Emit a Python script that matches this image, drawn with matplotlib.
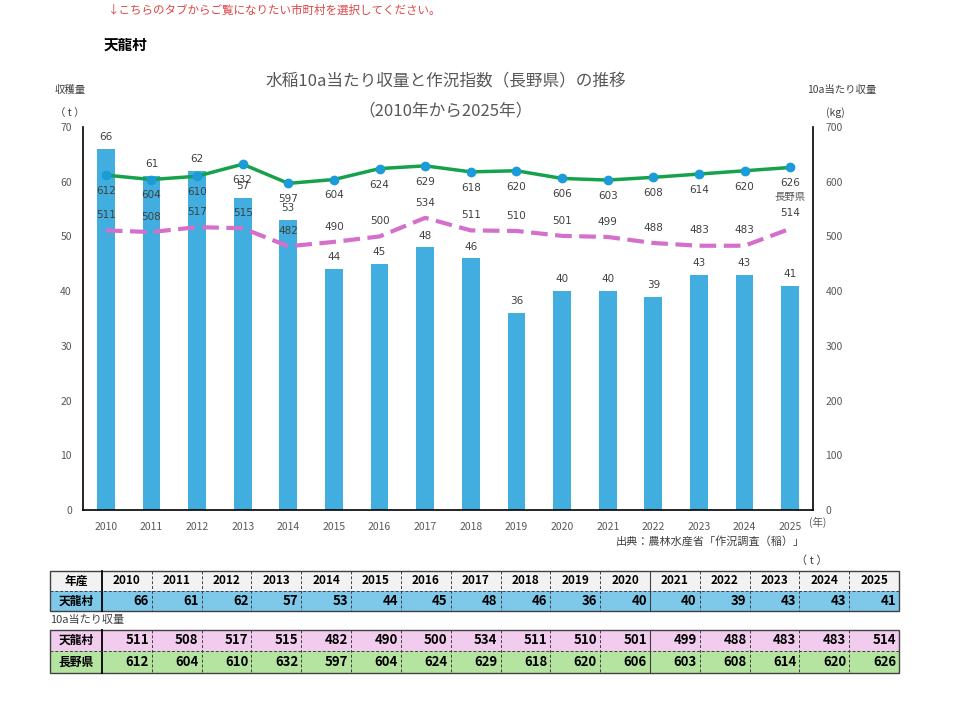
"""
Tenryu village rice harvest chart with summary table
"""

import matplotlib.pyplot as plt
import numpy as np

plt.rcParams["font.family"] = ["Noto Sans CJK JP", "DejaVu Sans"]

# Data
years = [2010, 2011, 2012, 2013, 2014, 2015, 2016, 2017,
         2018, 2019, 2020, 2021, 2022, 2023, 2024, 2025]
harvest_t = [66, 61, 62, 57, 53, 44, 45, 48, 46, 36, 40, 40, 39, 43, 43, 41]
yield_tenryu = [511, 508, 517, 515, 482, 490, 500, 534,
                511, 510, 501, 499, 488, 483, 483, 514]
yield_nagano = [612, 604, 610, 632, 597, 604, 624, 629,
                618, 620, 606, 603, 608, 614, 620, 626]

W, H = 960, 701
BAR_C = "#41AEDF"
GREEN = "#15A24A"
MARK = "#1B9BD7"
PINK = "#D46FCB"
GRAY = "#595959"
LBL = "#404040"


def fx(px):
    return px / W


def fy(py):
    return 1 - py / H


fig = plt.figure(figsize=(W / 100, H / 100), dpi=100)

# page-level axes in pixel coords (texts + table)
pax = fig.add_axes([0, 0, 1, 1])
pax.set_xlim(0, W)
pax.set_ylim(H, 0)
pax.axis("off")

# Chart
ax = fig.add_axes([fx(83), fy(510), (813 - 83) / W, (510 - 127) / H])
x = np.arange(len(years))
ax.bar(x, harvest_t, width=0.39, color=BAR_C, zorder=2)
ax.set_xlim(-0.5, len(years) - 0.5)
ax.set_ylim(0, 70)
ax.set_yticks(range(0, 71, 10))
ax.set_xticks(x)
ax.set_xticklabels([str(y) for y in years])
ax.tick_params(length=0, labelsize=7.5, labelcolor=GRAY)
ax.tick_params(axis="x", pad=9)
ax.tick_params(axis="y", pad=8)
ax.spines["top"].set_visible(False)
ax.spines["right"].set_visible(False)
for s in ("left", "bottom"):
    ax.spines[s].set_color("black")
    ax.spines[s].set_linewidth(1.2)

for xi, v in zip(x, harvest_t):
    ax.annotate(str(v), (xi, v), xytext=(0, 8.5), textcoords="offset points",
                ha="center", va="center", fontsize=7.5, color=LBL,
                family="DejaVu Sans")

ax2 = ax.twinx()
ax2.set_ylim(0, 700)
ax2.set_yticks(range(0, 701, 100))
ax2.tick_params(length=0, labelsize=7.5, labelcolor=GRAY, pad=9)
ax2.spines["top"].set_visible(False)
ax2.spines["left"].set_visible(False)
ax2.spines["bottom"].set_visible(False)
ax2.spines["right"].set_color("black")
ax2.spines["right"].set_linewidth(1.2)

ax2.plot(x, yield_tenryu, color=PINK, linewidth=3, dashes=(4, 1.8), zorder=3)
ax2.plot(x, yield_nagano, color=GREEN, linewidth=2.5, marker="o",
         markersize=6, markerfacecolor=MARK, markeredgecolor=MARK, zorder=4)

for xi, v in zip(x, yield_nagano):
    ax2.annotate(str(v), (xi, v), xytext=(0, -11.5), textcoords="offset points",
                 ha="center", va="center", fontsize=7.5, color=LBL,
                 family="DejaVu Sans")
for xi, v in zip(x, yield_tenryu):
    ax2.annotate(str(v), (xi, v), xytext=(0, 11), textcoords="offset points",
                 ha="center", va="center", fontsize=7.5, color=LBL,
                 family="DejaVu Sans")
ax2.annotate("長野県", (x[-1], yield_nagano[-1]), xytext=(0, -21.5),
             textcoords="offset points", ha="center", va="center",
             fontsize=7.5, color=GRAY)

# Page texts
pax.text(108, 10, "↓こちらのタブからご覧になりたい市町村を選択してください。",
         fontsize=8.3, color="#E04545", va="center", ha="left")
pax.text(104, 45, "天龍村", fontsize=10.5, fontweight="bold", va="center")
pax.text(446, 82, "水稲10a当たり収量と作況指数（長野県）の推移",
         fontsize=12, color=GRAY, ha="center", va="center")
pax.text(446, 111, "（2010年から2025年）", fontsize=12, color=GRAY,
         ha="center", va="center")
pax.text(70, 90, "収穫量", fontsize=7.5, color="#404040", ha="center", va="center")
pax.text(70, 113, "（ t ）", fontsize=7.5, color="#404040", ha="center", va="center")
pax.text(842, 90, "10a当たり収量", fontsize=7.5, color="#404040",
         ha="center", va="center")
pax.text(835, 113, "(kg)", fontsize=7.5, color="#404040", ha="center", va="center")
pax.text(818, 522, "(年)", fontsize=7.5, color=GRAY, ha="center", va="center")
pax.text(805, 541, "出典：農林水産省「作況調査（稲）」", fontsize=8,
         color="#404040", ha="right", va="center")
pax.text(812, 561, "（ t ）", fontsize=8, color="#404040", ha="center", va="center")

# Table
t_left, t_right, c0 = 50, 899, 102
cw = (t_right - c0) / len(years)
col_x = [c0 + i * cw for i in range(len(years) + 1)]


def draw_row(y0, y1, bg, label, values, header=False):
    pax.add_patch(plt.Rectangle((t_left, y0), t_right - t_left, y1 - y0,
                                facecolor=bg, edgecolor="none", zorder=1))
    ym = (y0 + y1) / 2
    pax.text((t_left + c0) / 2, ym, label, ha="center", va="center",
             fontsize=8.5, fontweight="bold", zorder=3)
    for i, v in enumerate(values):
        if header:
            pax.text((col_x[i] + col_x[i + 1]) / 2, ym, str(v), ha="center",
                     va="center", fontsize=8.5, fontweight="bold", zorder=3)
        else:
            pax.text(col_x[i + 1] - 3, ym, str(v), ha="right", va="center",
                     fontsize=9.5, fontweight="bold", zorder=3)


def draw_grid(y0, y1, mids):
    pax.add_patch(plt.Rectangle((t_left, y0), t_right - t_left, y1 - y0,
                                facecolor="none", edgecolor="#404040",
                                linewidth=1, zorder=2))
    pax.plot([c0, c0], [y0, y1], color="black", linewidth=1.3, zorder=2)
    for i, cx in enumerate(col_x[1:-1], start=1):
        if years[i] == 2021:
            pax.plot([cx, cx], [y0, y1], color="#404040", linewidth=0.8, zorder=2)
        else:
            pax.plot([cx, cx], [y0, y1], color="#404040", linewidth=0.7,
                     linestyle=(0, (3, 2)), zorder=2)
    for m in mids:
        pax.plot([t_left, t_right], [m, m], color="#404040", linewidth=0.7,
                 linestyle=(0, (3, 2)), zorder=2)


draw_row(571, 591, "#F2F2F2", "年産", years, header=True)
draw_row(591, 611, "#7EC8EA", "天龍村", harvest_t)
draw_grid(571, 611, [591])

pax.text(50, 620, "10a当たり収量", fontsize=8, color="#404040",
         ha="left", va="center")

draw_row(630, 651, "#F2CCEE", "天龍村", yield_tenryu)
draw_row(651, 673, "#B5E3A0", "長野県", yield_nagano)
draw_grid(630, 673, [651])

plt.savefig("out.png", dpi=100)
